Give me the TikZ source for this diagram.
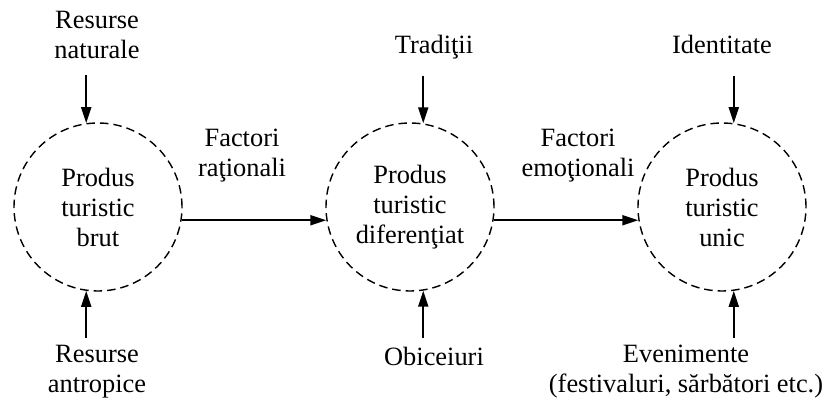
\documentclass[tikz,border=0pt]{standalone}
\usepackage{fontspec}
\setmainfont{Liberation Serif}
\usepackage{tikz}
\usetikzlibrary{arrows.meta,positioning}

\begin{document}
\begin{tikzpicture}[x=0.5pt,y=-0.5pt,
prod/.style={circle,draw,dash pattern=on 4.25pt off 2.5pt,line width=.7pt,minimum size=84pt,inner sep=0pt,align=center,font=\fontsize{13.2pt}{15pt}\selectfont},
lbl/.style={anchor=north,inner sep=0pt,align=center,font=\fontsize{13.2pt}{15pt}\selectfont},
arr/.style={-{Triangle[length=8pt,width=5pt]},line width=1pt}]
\useasboundingbox (0,0) rectangle (827,401);
% produse
\node[prod] (c1) at (98,207) {Produs\\turistic\\brut};
\node[prod] (c2) at (410,207) {Produs\\turistic\\diferenţiat};
\node[prod] (c3) at (722,207) {Produs\\turistic\\unic};
% factori
\node[lbl] (nat) at (97,11) {Resurse\\naturale};
\node[lbl] (antr) at (97,345) {Resurse\\antropice};
\node[lbl] (trad) at (434,35) {Tradiţii};
\node[lbl] (obic) at (434,347) {Obiceiuri};
\node[lbl] (ident) at (722,35) {Identitate};
\node[lbl] (even) at (686,345) {Evenimente\\(festivaluri, sărbători etc.)};
\node[lbl] (rat) at (242,129) {Factori\\raţionali};
\node[lbl] (emo) at (578,129) {Factori\\emoţionali};
\draw[arr,shorten <=8pt] (nat.south -| c1.98) -- (c1.98);
\draw[arr,shorten <=3.5pt] (antr.north -| c1.262) -- (c1.262);
\draw[arr,shorten <=8pt] (trad.south -| c2.81) -- (c2.81);
\draw[arr,shorten <=4.5pt] (obic.north -| c2.279) -- (c2.279);
\draw[arr,shorten <=11pt] (ident.south -| c3.82) -- (c3.82);
\draw[arr,shorten <=3.5pt] (even.north -| c3.278) -- (c3.278);
\draw[arr] (c1.351) -- (c2.189);
\draw[arr] (c2.351) -- (c3.189);
\end{tikzpicture}
\end{document}
